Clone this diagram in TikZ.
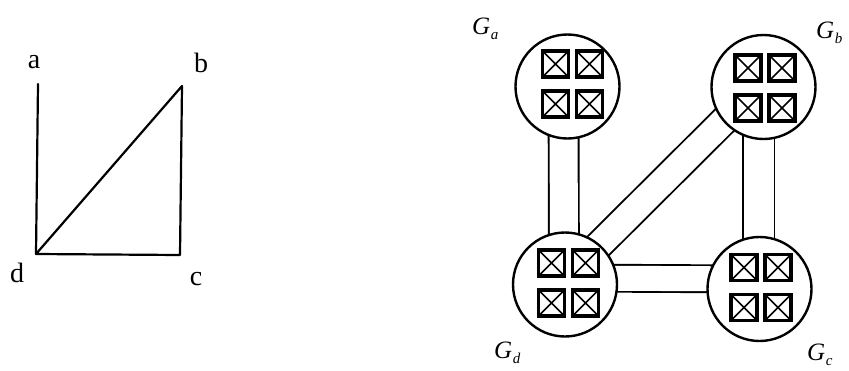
\documentclass[tikz,border=0pt]{standalone}
\usepackage{fontspec}
\setmainfont{Liberation Serif}
\usetikzlibrary{calc}
\pgfdeclarelayer{links}
\pgfsetlayers{links,main}

% italic cluster label G with a subscript
\newcommand{\clab}[1]{\textit{G}\kern0.5pt\raisebox{-0.22em}{\fontsize{15}{16}\selectfont\textit{#1}}}

\begin{document}
\begin{tikzpicture}[x=1pt,y=-1pt,
  edge/.style={line width=2.2pt, line cap=round, line join=round},
  vlabel/.style={anchor=base, inner sep=0pt, font=\fontsize{28}{32}\selectfont},
  glabel/.style={anchor=base west, inner sep=0pt, font=\fontsize{25}{28}\selectfont},
  group/.style={circle, draw, line width=2.4pt, fill=white, minimum size=104pt, inner sep=0pt},
  cell/.style={draw, line width=3.2pt, fill=white, minimum width=26pt, minimum height=26pt, inner sep=0pt,
    path picture={\draw[line width=1.6pt]
      (path picture bounding box.south west) -- (path picture bounding box.north east)
      (path picture bounding box.north west) -- (path picture bounding box.south east);}},
  link/.style={line width=1.9pt, double, double distance=#1}
]
\useasboundingbox (0,0) rectangle (849,370);
\clip (0,0) rectangle (849,370);

% ---- left: the small graph a, b, c, d ----
\coordinate (A) at (38,84);
\coordinate (B) at (182,86);
\coordinate (C) at (180,255);
\coordinate (D) at (36,254);
\node[vlabel] (la) at (34,68) {a};
\node[vlabel] (lb) at (201,72) {b};
\node[vlabel] (ld) at (17,282) {d};
\node[vlabel] (lc) at (196,285) {c};
\draw[edge] (A) -- (D);
\draw[edge] (D) -- (B) -- (C) -- (D);

% ---- right: four clusters of four cells ----
\node[group] (Ga) at (567.5,86.5) {};
\node[group] (Gb) at (763.5,87) {};
\node[group] (Gd) at (565,284.5) {};
\node[group] (Gc) at (759.5,289) {};

\foreach \g/\ox/\oy in {Ga/5/-2.5, Gb/1.5/1, Gd/3.5/-1.5, Gc/1.5/-1.5}{
  \foreach \dx in {-17,17}{
    \foreach \dy in {-20,20}{
      \node[cell] at ($(\g)+(\ox+\dx,\oy+\dy)$) {};
    }
  }
}

% double links between clusters, kept under the circles
\begin{pgfonlayer}{links}
  \draw[link=28pt] ([xshift=-4pt]Ga.center) -- ([xshift=-1pt]Gd.center);
  \draw[link=30pt] ([xshift=-5pt]Gb.center) -- ([xshift=-1pt]Gc.center);
  \draw[link=25pt] ([yshift=6.5pt]Gd.center) -- ([yshift=10pt]Gc.center);
  \draw[link=26.3pt] ([xshift=-2.8pt,yshift=2.8pt]Gd.center) -- ([xshift=-2.8pt,yshift=2.8pt]Gb.center);
\end{pgfonlayer}

% cluster names
\node[glabel] (na) at (472,34) {\clab{a}};
\node[glabel] (nb) at (816,38) {\clab{b}};
\node[glabel] (nd) at (494,358) {\clab{d}};
\node[glabel] (nc) at (807,360) {\clab{c}};
\end{tikzpicture}
\end{document}
